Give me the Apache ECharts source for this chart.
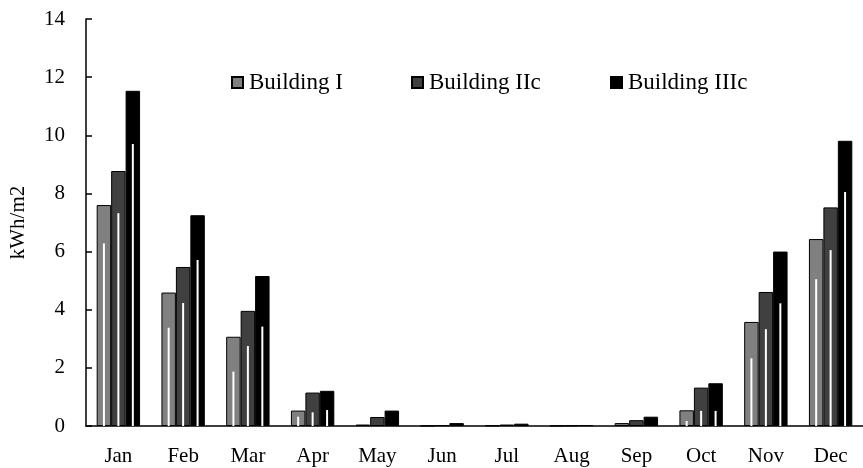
<!DOCTYPE html>
<html>
<head>
<meta charset="utf-8">
<script src="https://cdn.jsdelivr.net/npm/echarts@6/dist/echarts.min.js"></script>
<style>
  html, body { margin: 0; padding: 0; background: #fff; }
  #chart { width: 863px; height: 468px; }
</style>
</head>
<body>
<div id="chart"></div>
<script>
// months on the x axis
var months = ['Jan', 'Feb', 'Mar', 'Apr', 'May', 'Jun', 'Jul', 'Aug', 'Sep', 'Oct', 'Nov', 'Dec'];
var names = ['Building I', 'Building IIc', 'Building IIIc'];

// kWh/m2
var building1 = [7.6, 4.59, 3.07, 0.53, 0.05, 0.01, 0.02, 0.01, 0.1, 0.54, 3.58, 6.43];
var building2 = [8.77, 5.47, 3.96, 1.15, 0.31, 0.03, 0.05, 0.02, 0.2, 1.32, 4.61, 7.52];
var building3 = [11.53, 7.25, 5.16, 1.21, 0.53, 0.1, 0.08, 0.03, 0.32, 1.47, 6.0, 9.81];

// height of the thin white highlight inside each bar
var shine1 = [6.28, 3.38, 1.87, 0.32, 0, 0, 0, 0, 0, 0.17, 2.33, 5.05];
var shine2 = [7.32, 4.23, 2.75, 0.47, 0, 0, 0, 0, 0, 0.52, 3.33, 6.05];
var shine3 = [9.7, 5.71, 3.42, 0.55, 0, 0, 0, 0, 0, 0.52, 4.22, 8.05];

var yTicks = [0, 2, 4, 6, 8, 10, 12, 14];

var font = '"Liberation Serif", "Times New Roman", serif';
var colors = ['#808080', '#404040', '#000000'];
var catGap = 0.33;

function shineSeries(data, idx) {
    return {
        type: 'custom',
        silent: true,
        z: 5,
        data: data.map(function (v, i) { return [i, v]; }),
        renderItem: function (params, api) {
            var v = api.value(1);
            if (!v) return;
            var band = api.size([1, 0])[0];
            var barW = band * (1 - catGap) / 3;
            var top = api.coord([api.value(0), v]);
            var base = api.coord([api.value(0), 0]);
            var x = top[0] + (idx - 1) * barW - 1;
            return {
                type: 'rect',
                shape: { x: x, y: top[1], width: 2, height: base[1] - top[1] },
                style: { fill: '#fff' }
            };
        }
    };
}

function barSeries(name, data, idx) {
    return {
        name: name,
        type: 'bar',
        data: data,
        barGap: '0%',
        barCategoryGap: (catGap * 100) + '%',
        itemStyle: { color: colors[idx], borderColor: '#000', borderWidth: 1 }
    };
}

function legendAt(name, left) {
    return {
        data: [name],
        left: left,
        top: 66,
        icon: 'rect',
        itemWidth: 11,
        itemHeight: 11,
        itemGap: 0,
        selectedMode: false,
        textStyle: { fontFamily: font, fontSize: 23, color: '#000', padding: [0, 0, 0, 1] }
    };
}

var chart = echarts.init(document.getElementById('chart'));
chart.setOption({
    backgroundColor: '#fff',
    animation: false,
    textStyle: { fontFamily: font },
    legend: [
        legendAt(names[0], 226),
        legendAt(names[1], 406),
        legendAt(names[2], 605)
    ],
    grid: { left: 83, right: -5, top: 19, bottom: 42, containLabel: false },
    xAxis: {
        type: 'category',
        data: months,
        axisLine: { lineStyle: { color: '#000', width: 1.5 } },
        axisTick: { inside: true, length: 6, lineStyle: { color: '#000', width: 1.5 } },
        axisLabel: { color: '#000', fontSize: 21, fontFamily: font, margin: 20 },
        splitLine: { show: false }
    },
    yAxis: {
        type: 'value',
        min: yTicks[0],
        max: yTicks[yTicks.length - 1],
        interval: 2,
        name: 'kWh/m2',
        nameLocation: 'middle',
        nameGap: 57,
        nameTextStyle: { color: '#000', fontSize: 21, fontFamily: font },
        axisLine: { show: true, lineStyle: { color: '#000', width: 1.5 } },
        axisTick: { show: true, inside: true, length: 6, lineStyle: { color: '#000', width: 1.5 } },
        axisLabel: { color: '#000', fontSize: 21, fontFamily: font, margin: 21 },
        splitLine: { show: false }
    },
    series: [
        barSeries(names[0], building1, 0),
        barSeries(names[1], building2, 1),
        barSeries(names[2], building3, 2),
        shineSeries(shine1, 0),
        shineSeries(shine2, 1),
        shineSeries(shine3, 2)
    ]
});
</script>
</body>
</html>
